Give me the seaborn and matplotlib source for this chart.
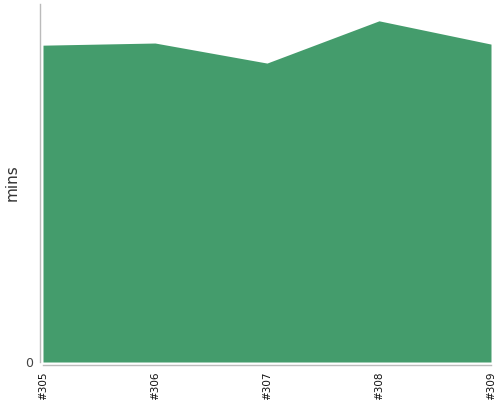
import pandas as pd
import matplotlib
matplotlib.use('Agg')
import matplotlib.pyplot as plt
import seaborn as sns

builds = ['#305', '#306', '#307', '#308', '#309']
mins = [88.5, 89.1, 83.5, 95.3, 88.8]

df = pd.DataFrame({'build': builds, 'mins': mins})
df['pos'] = range(len(df))

sns.set_style('white')
green = '#449c6c'

fig = plt.figure(figsize=(5, 4), dpi=100)
ax = fig.add_axes([0.086, 0.095, 0.896, 0.895])

sns.lineplot(data=df, x='pos', y='mins', ax=ax, color=green, linewidth=0)
ax.fill_between(df['pos'], df['mins'], color=green, linewidth=0)

# spine offset resets the ticks, so do it before styling them
sns.despine(ax=ax, offset=2.2)
for side in ['left', 'bottom']:
    ax.spines[side].set_color('#bbbbbb')
    ax.spines[side].set_linewidth(1)

ax.set_xlim(0, len(df) - 1)
ax.set_ylim(0, 100)
ax.set_xticks(df['pos'])
ax.set_xticklabels(df['build'], rotation=90, fontsize=7.5, color='#111111')
ax.set_yticks([0])
ax.set_yticklabels(['0'], fontsize=9, color='#444444')
ax.set_xlabel('')
ax.set_ylabel('mins', fontsize=11, color='#333333')
ax.yaxis.set_label_coords(-0.052, 0.5)
ax.tick_params(axis='both', length=3, width=0.8, color='#bbbbbb', pad=2, direction='out')

fig.savefig('out.png', dpi=100)
